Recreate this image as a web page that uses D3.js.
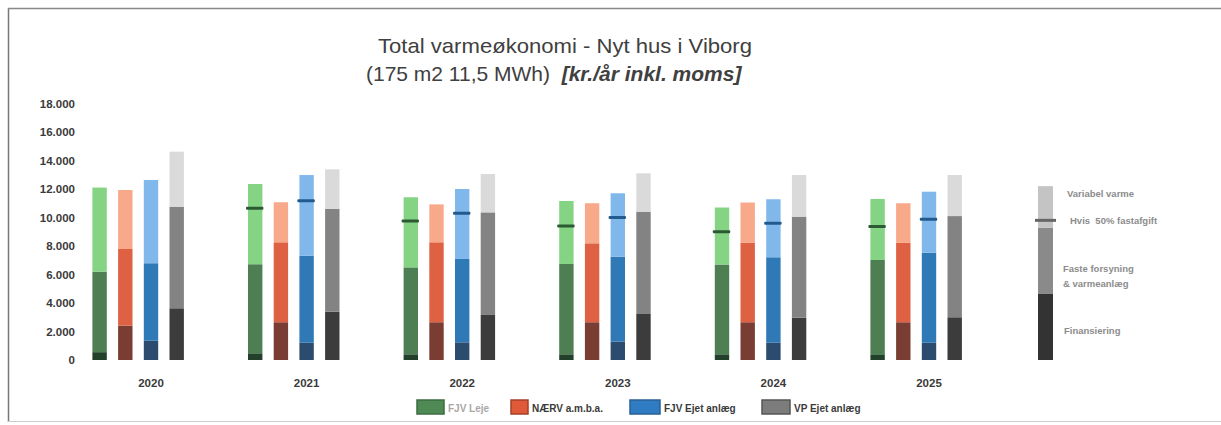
<!DOCTYPE html>
<html><head><meta charset="utf-8">
<script src="https://cdn.jsdelivr.net/npm/d3@7"></script>
<style>
html,body{margin:0;padding:0;background:#fff;}
svg{display:block;}
text{font-family:"Liberation Sans",Arial,sans-serif;white-space:pre;}
</style></head>
<body><svg id="c" width="1221" height="425"></svg>
<script>
// ---- data (kr./år) ----
const years = ["2020","2021","2022","2023","2024","2025"];
const seriesNames = ["FJV Leje","NÆRV a.m.b.a.","FJV Ejet anlæg","VP Ejet anlæg"];
const yTicks = [0,2000,4000,6000,8000,10000,12000,14000,16000,18000];
// segment values per series: Finansiering, Faste forsyning & varmeanlæg, Variabel varme
const lejeFinans   = [550, 470, 400, 400, 400, 350];
const lejeFaste    = [5650, 6250, 6100, 6340, 6300, 6670];
const lejeVariabel = [5900, 5630, 4920, 4420, 4000, 4280];
const lejeHalvFast = [null, 10650, 9750, 9400, 9000, 9360];
const naervFinans   = [2410, 2650, 2650, 2650, 2650, 2650];
const naervFaste    = [5380, 5610, 5610, 5540, 5570, 5570];
const naervVariabel = [4140, 2810, 2660, 2810, 2830, 2780];
const naervHalvFast = [null, null, null, null, null, null];
const ejetFinans   = [1350, 1210, 1240, 1290, 1210, 1210];
const ejetFaste    = [5440, 6110, 5850, 5960, 6000, 6320];
const ejetVariabel = [5840, 5660, 4910, 4450, 4070, 4280];
const ejetHalvFast = [null, 11180, 10290, 10000, 9590, 9870];
const vpFinans   = [3630, 3390, 3160, 3230, 2970, 3000];
const vpFaste    = [7130, 7210, 7200, 7180, 7090, 7100];
const vpVariabel = [3860, 2780, 2690, 2690, 2920, 2880];
const vpHalvFast = [null, null, null, null, null, null];
// side legend bar
const sideLegendSegments = [4670, 4600, 2930];
const sideLegendMarker = 9800;
const sideLegendLabels = ["Finansiering", "Faste forsyning", "& varmeanlæg", "Hvis  50% fastafgift", "Variabel varme"];

const seriesData = [
  {name: seriesNames[0], segs: [lejeFinans, lejeFaste, lejeVariabel], marker: lejeHalvFast},
  {name: seriesNames[1], segs: [naervFinans, naervFaste, naervVariabel], marker: naervHalvFast},
  {name: seriesNames[2], segs: [ejetFinans, ejetFaste, ejetVariabel], marker: ejetHalvFast},
  {name: seriesNames[3], segs: [vpFinans, vpFaste, vpVariabel], marker: vpHalvFast}
];

// ---- styles ----
const segColors = [
  ["#22402a", "#4d7f52", "#84d483"],
  ["#7a3d33", "#df6143", "#f8a98a"],
  ["#2b4c6f", "#2f79b6", "#80b8ec"],
  ["#3c3c3c", "#838383", "#dadada"]
];
const markerColors = ["#2c5a35", "#a23e2a", "#235a8e", "#444"];
const legendSwatch = ["#4f8a55", "#e05a3a", "#2f7cc2", "#7c7c7c"];
const legendSwatchStroke = ["#3b6b40", "#a4402a", "#2a5f94", "#555"];

const svg = d3.select("#c");

// frame
svg.append("line").attr("x1",8.5).attr("y1",8).attr("x2",8.5).attr("y2",422).attr("stroke","#777").attr("stroke-width",1.5);
svg.append("line").attr("x1",8).attr("y1",8.5).attr("x2",1221).attr("y2",8.5).attr("stroke","#888").attr("stroke-width",1.5);
svg.append("line").attr("x1",8).attr("y1",421.5).attr("x2",1221).attr("y2",421.5).attr("stroke","#ccc").attr("stroke-width",1);

// title
svg.append("text").attr("x",565).attr("y",53).attr("text-anchor","middle")
  .attr("font-size",21).attr("fill","#404040")
  .attr("textLength",374).attr("lengthAdjust","spacingAndGlyphs")
  .text("Total varmeøkonomi - Nyt hus i Viborg");
const t2 = svg.append("text").attr("x",366).attr("y",81)
  .attr("font-size",21).attr("fill","#404040");
t2.append("tspan").text("(175 m2 11,5 MWh)  ");
t2.append("tspan").attr("font-weight","bold").attr("font-style","italic").text("[kr./år inkl. moms]");

// scales
const y = d3.scaleLinear().domain([0,18000]).range([360,103.5]);
const x = d3.scaleBand().domain(years).range([73.2, 1006.8]).paddingInner(0).paddingOuter(0);
const xs = d3.scaleBand().domain(seriesNames).range([-64.25, 38.55]).paddingInner(0.44).paddingOuter(0.22);

const loc = d3.formatLocale({decimal:",", thousands:".", grouping:[3], currency:["",""]});
const fmt = loc.format(",");

// y axis (no line)
const yAxis = d3.axisLeft(y).tickValues(yTicks).tickFormat(fmt).tickSize(0).tickPadding(0);
const gy = svg.append("g").attr("transform","translate(75,0)").call(yAxis);
gy.select(".domain").remove();
gy.selectAll("text").attr("font-size",11.5).attr("font-weight","bold").attr("fill","#3a3a3a")
  .attr("font-family","'Liberation Sans',Arial,sans-serif");

// x axis labels
const xAxis = d3.axisBottom(x).tickSize(0).tickPadding(0);
const gx = svg.append("g").attr("transform","translate(0,379)").call(xAxis);
gx.select(".domain").remove();
gx.selectAll("text").attr("font-size",11.5).attr("font-weight","bold").attr("fill","#3a3a3a")
  .attr("font-family","'Liberation Sans',Arial,sans-serif");

// bars
seriesData.forEach((s, si) => {
  years.forEach((yr, yi) => {
    const bx = x(yr) + x.bandwidth()/2 + xs(s.name);
    let cum = 0;
    s.segs.forEach((arr, k) => {
      const v0 = cum, v1 = cum + arr[yi];
      cum = v1;
      svg.append("rect").attr("x", bx).attr("width", xs.bandwidth())
        .attr("y", y(v1)).attr("height", y(v0) - y(v1))
        .attr("fill", segColors[si][k]);
    });
    const m = s.marker[yi];
    if (m != null) {
      svg.append("rect").attr("x", bx - 2).attr("width", xs.bandwidth() + 3)
        .attr("y", y(m) - 1.5).attr("height", 3).attr("rx", 1)
        .attr("fill", markerColors[si]);
    }
  });
});

// side legend bar
const sideColors = ["#333333", "#8a8a8a", "#c4c4c4"];
let cum = 0;
sideLegendSegments.forEach((v, k) => {
  const v0 = cum, v1 = cum + v; cum = v1;
  svg.append("rect").attr("x", 1038).attr("width", 15).attr("y", y(v1)).attr("height", y(v0) - y(v1)).attr("fill", sideColors[k]);
});
svg.append("rect").attr("x", 1035).attr("width", 21).attr("y", y(sideLegendMarker) - 1.5).attr("height", 3).attr("fill", "#666");
const sideText = [[1064, 334], [1063, 272], [1063, 287], [1070, 224], [1067, 197]];
sideLegendLabels.forEach((t, i) => {
  svg.append("text").attr("x", sideText[i][0]).attr("y", sideText[i][1])
    .attr("font-size", 9.5).attr("font-weight", "bold").attr("fill", "#8c8c8c")
    .attr("font-family","'Liberation Sans Narrow','Liberation Sans',Arial,sans-serif")
    .text(t);
});

// bottom legend
const legX = [417, 511, 630, 762];
const legW = [27, 17, 30, 28];
const legTextColor = ["#a8a8a8", "#3a3a3a", "#3a3a3a", "#3a3a3a"];
seriesNames.forEach((n, i) => {
  svg.append("rect").attr("x", legX[i]).attr("y", 400).attr("width", legW[i]).attr("height", 14)
    .attr("fill", legendSwatch[i]).attr("stroke", legendSwatchStroke[i]).attr("stroke-width", 1.5);
  svg.append("text").attr("x", legX[i] + legW[i] + 4).attr("y", 411.5)
    .attr("font-size", 10).attr("font-weight", "bold").attr("fill", legTextColor[i])
    .attr("font-family","'Liberation Sans Narrow','Liberation Sans',Arial,sans-serif")
    .text(n);
});
</script></body></html>
